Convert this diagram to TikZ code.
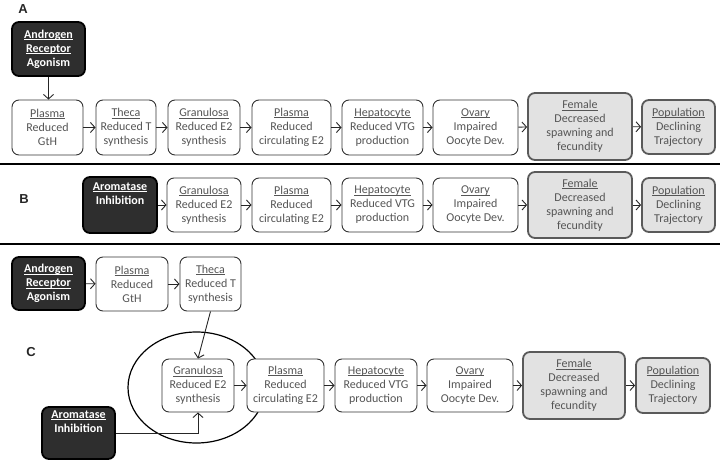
\documentclass[tikz,border=0pt]{standalone}
\usepackage{fontspec}
\setmainfont{Carlito}
\newfontfamily\labfont{Liberation Sans}
\usetikzlibrary{arrows.meta,calc}
\definecolor{txtgray}{HTML}{555555}
\definecolor{boxedge}{HTML}{333333}
\definecolor{grayfill}{HTML}{E2E2E2}
\definecolor{grayedge}{HTML}{5A5A5A}
\definecolor{darkfill}{HTML}{2E2E2E}
\newcommand\ulw[1]{\setbox0\hbox{#1}\rlap{\rule[-1.4pt]{\wd0}{0.55pt}}\box0}
\tikzset{
  base/.style={rounded corners=7pt, align=center, inner sep=1pt,
    font=\fontsize{12}{14}\selectfont},
  wbox/.style={base, draw=boxedge, line width=0.9pt, fill=white, text=txtgray},
  gbox/.style={base, draw=grayedge, line width=1.8pt, fill=grayfill, text=txtgray},
  kbox/.style={base, draw=black, line width=1.8pt, fill=darkfill, text=white,
    font=\fontsize{12}{14}\selectfont\bfseries},
  conn/.style={line width=0.9pt, draw=black!85, -{Straight Barb[length=4.5pt,width=10pt]}},
  sep/.style={line width=1.4pt, draw=black},
  plabel/.style={font=\labfont\bfseries\fontsize{13}{13}\selectfont, text=black!85}
}
\begin{document}
\begin{tikzpicture}[x=1pt,y=-1pt]
\useasboundingbox (0,0) rectangle (720,462);
% ---------- Panel A ----------
\node[plabel] (labA) at (23,9) {A};
\node[kbox, minimum width=73pt, minimum height=54pt] (aAR) at (48.5,49) {\ulw{Androgen}\\\ulw{Receptor}\\Agonism};
\node[wbox, minimum width=71pt, minimum height=55pt] (aP1) at (47.5,127.5) {\ulw{Plasma}\\Reduced\\GtH};
\node[wbox, minimum width=60pt, minimum height=55pt] (aTh) at (126,127.5) {\ulw{Theca}\\Reduced T\\synthesis};
\node[wbox, minimum width=72pt, minimum height=55pt] (aGr) at (204,127.5) {\ulw{Granulosa}\\Reduced E2\\synthesis};
\node[wbox, minimum width=79pt, minimum height=55pt] (aP2) at (291.5,127.5) {\ulw{Plasma}\\Reduced\\circulating E2};
\node[wbox, minimum width=81pt, minimum height=55pt] (aHe) at (382.5,127.5) {\ulw{Hepatocyte}\\Reduced VTG\\production};
\node[wbox, minimum width=85pt, minimum height=55pt] (aOv) at (475.5,127.5) {\ulw{Ovary}\\Impaired\\Oocyte Dev.};
\node[gbox, minimum width=104pt, minimum height=67pt] (aFe) at (580,126.5) {\ulw{Female}\\Decreased\\spawning and\\fecundity};
\node[gbox, minimum width=73pt, minimum height=54pt] (aPo) at (678.5,127) {\ulw{Population}\\Declining\\Trajectory};
\draw[conn] (aAR.south) -- (aAR.south |- aP1.north);
\draw[conn] (aP1) -- (aTh);
\draw[conn] (aTh) -- (aGr);
\draw[conn] (aGr) -- (aP2);
\draw[conn] (aP2) -- (aHe);
\draw[conn] (aHe) -- (aOv);
\draw[conn] (aOv) -- (aFe);
\draw[conn] (aFe) -- (aPo);
\coordinate (sepAl) at (0,164);
\coordinate (sepAr) at (720,164);
\draw[sep] (sepAl) -- (sepAr);
% ---------- Panel B ----------
\node[plabel] (labB) at (24,199) {B};
\node[kbox, minimum width=74pt, minimum height=56pt] (bAI) at (120,205) {\ulw{Aromatase}\\Inhibition\\[9pt]};
\node[wbox, minimum width=74pt, minimum height=54pt] (bGr) at (204,205) {\ulw{Granulosa}\\Reduced E2\\synthesis};
\node[wbox, minimum width=79pt, minimum height=54pt] (bP) at (291.5,205) {\ulw{Plasma}\\Reduced\\circulating E2};
\node[wbox, minimum width=81pt, minimum height=54pt] (bHe) at (382.5,205) {\ulw{Hepatocyte}\\Reduced VTG\\production};
\node[wbox, minimum width=85pt, minimum height=54pt] (bOv) at (475.5,205) {\ulw{Ovary}\\Impaired\\Oocyte Dev.};
\node[gbox, minimum width=104pt, minimum height=66pt] (bFe) at (580,205) {\ulw{Female}\\Decreased\\spawning and\\fecundity};
\node[gbox, minimum width=73pt, minimum height=54pt] (bPo) at (678.5,205) {\ulw{Population}\\Declining\\Trajectory};
\draw[conn] (bAI) -- (bGr);
\draw[conn] (bGr) -- (bP);
\draw[conn] (bP) -- (bHe);
\draw[conn] (bHe) -- (bOv);
\draw[conn] (bOv) -- (bFe);
\draw[conn] (bFe) -- (bPo);
\coordinate (sepBl) at (0,244);
\coordinate (sepBr) at (720,244);
\draw[sep] (sepBl) -- (sepBr);
% ---------- Panel C ----------
\node[plabel] (labC) at (31,352) {C};
\draw[line width=1.2pt, draw=black] (196.5,387.5) ellipse [x radius=68.5, y radius=55.5];
\node[kbox, minimum width=73pt, minimum height=53pt] (cAR) at (48.5,283.5) {\ulw{Androgen}\\\ulw{Receptor}\\Agonism};
\node[wbox, minimum width=72pt, minimum height=54pt] (cP1) at (132,284) {\ulw{Plasma}\\Reduced\\GtH};
\node[wbox, minimum width=61pt, minimum height=54pt] (cTh) at (210.5,284) {\ulw{Theca}\\Reduced T\\synthesis};
\node[wbox, minimum width=72pt, minimum height=53pt] (cGr) at (198,385.5) {\ulw{Granulosa}\\Reduced E2\\synthesis};
\node[wbox, minimum width=77pt, minimum height=53pt] (cP2) at (285.5,385.5) {\ulw{Plasma}\\Reduced\\circulating E2};
\node[wbox, minimum width=82pt, minimum height=53pt] (cHe) at (376,385.5) {\ulw{Hepatocyte}\\Reduced VTG\\production};
\node[wbox, minimum width=86pt, minimum height=53pt] (cOv) at (470,385.5) {\ulw{Ovary}\\Impaired\\Oocyte Dev.};
\node[gbox, minimum width=102pt, minimum height=67pt] (cFe) at (574,385.5) {\ulw{Female}\\Decreased\\spawning and\\fecundity};
\node[gbox, minimum width=74pt, minimum height=55pt] (cPo) at (673,385.5) {\ulw{Population}\\Declining\\Trajectory};
\node[kbox, minimum width=73pt, minimum height=52pt] (cAI) at (78.5,433) {\ulw{Aromatase}\\Inhibition\\[9pt]};
\draw[conn] (cAR) -- (cP1);
\draw[conn] (cP1) -- (cTh);
\draw[conn] (cTh.south) -- (cGr.north);
\draw[conn] (cAI.east) -| (cGr.south);
\draw[conn] (cGr) -- (cP2);
\draw[conn] (cP2) -- (cHe);
\draw[conn] (cHe) -- (cOv);
\draw[conn] (cOv) -- (cFe);
\draw[conn] (cFe) -- (cPo);
\end{tikzpicture}
\end{document}
